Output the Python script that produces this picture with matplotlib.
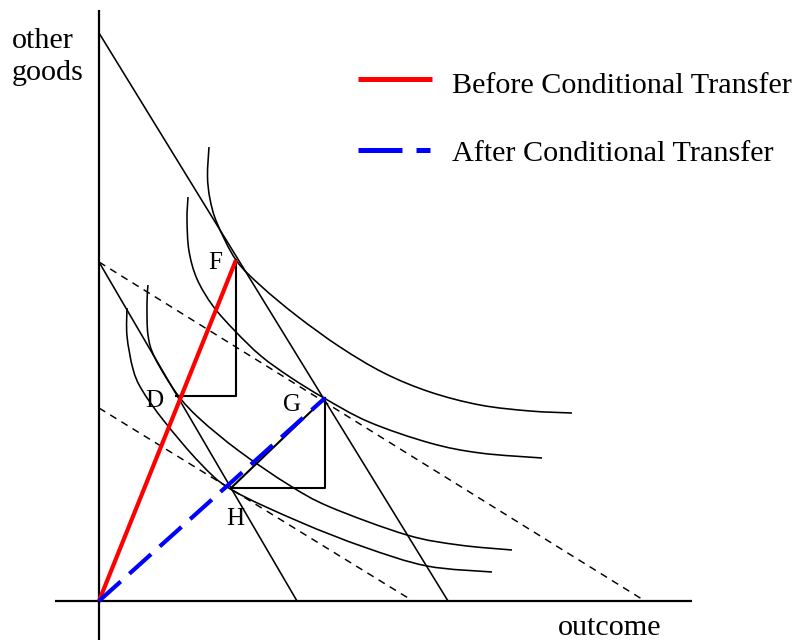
import matplotlib
matplotlib.use("Agg")
import matplotlib.pyplot as plt
from matplotlib.path import Path
from matplotlib.patches import PathPatch
import numpy as np

# ---- data (diagram units: origin at the axes corner) ----
origin = (0, 0)
point_F = (137, 341)
point_D = (77, 205)
point_G = (226, 203)
point_H = (132, 113)

# budget lines: (start, end)
line_A = [(0, 568), (349, 0)]
line_B = [(0, 339), (198, 0)]
dashed_1 = [(0, 339), (546, 0)]
dashed_2 = [(0, 193), (314, 0)]

# indifference curves: traced points
curve_1 = [(110, 454), (108.5, 425), (111, 402), (118, 378), (137, 341), (162, 315),
           (198, 285), (241, 254), (285, 228), (331, 209), (381, 196), (431, 190), (473, 188)]
curve_2 = [(89, 404), (88, 381), (90, 350), (98, 322), (114, 295), (136, 270),
           (162, 245), (191, 224), (225, 203), (270, 179), (331, 158), (381, 148), (443, 143)]
curve_3 = [(49, 316), (48, 298), (49, 266), (56, 243), (78, 207), (101, 182),
           (140, 150), (190, 116), (231, 94), (308, 66), (360, 56), (413, 51)]
curve_4 = [(28, 293), (28, 265), (34, 232), (43, 211), (65, 180), (101, 138),
           (133, 111), (201, 79), (265, 54), (328, 35), (393, 29)]

legend_labels = ["Before Conditional Transfer", "After Conditional Transfer"]
axis_labels = ["other", "goods", "outcome"]
point_labels = ["F", "D", "G", "H"]

# ---- figure ----
fig = plt.figure(figsize=(7.97, 6.44), dpi=100)
ax = fig.add_axes([0, 0, 1, 1])
ax.set_xlim(-99, 698)
ax.set_ylim(-43, 601)
ax.axis("off")

FONT = "Liberation Serif"
FS = 21.7

# axes
ax.plot([0, 0], [-39, 591], color="black", lw=1.6, solid_capstyle="butt")
ax.plot([-44, 593], [0, 0], color="black", lw=1.6, solid_capstyle="butt")

def seg(p, **kw):
    ax.plot([p[0][0], p[1][0]], [p[0][1], p[1][1]], **kw)

solid_kw = dict(color="black", lw=1.15)
dash_kw = dict(color="black", lw=1.05, dashes=(5, 4))
seg(line_A, **solid_kw)
seg(line_B, **solid_kw)
seg(dashed_1, **dash_kw)
seg(dashed_2, **dash_kw)

def smooth_curve(pts):
    P = np.array(pts, dtype=float)
    n = len(P)
    verts = [P[0]]
    codes = [Path.MOVETO]
    for i in range(n - 1):
        p0 = P[i - 1] if i > 0 else P[i]
        p1 = P[i]
        p2 = P[i + 1]
        p3 = P[i + 2] if i + 2 < n else P[i + 1]
        c1 = p1 + (p2 - p0) / 6.0
        c2 = p2 - (p3 - p1) / 6.0
        verts += [c1, c2, p2]
        codes += [Path.CURVE4] * 3
    return Path(verts, codes)

for c in (curve_1, curve_2, curve_3, curve_4):
    ax.add_patch(PathPatch(smooth_curve(c), fill=False, edgecolor="black", lw=1.15))

# triangles
ax.plot([point_F[0], point_F[0], point_D[0]], [point_F[1], point_D[1], point_D[1]],
        color="black", lw=1.5)
ax.plot([point_G[0], point_G[0], point_H[0]], [point_G[1], point_H[1], point_H[1]],
        color="black", lw=1.5)
ax.plot([point_H[0], point_G[0]], [point_H[1], point_G[1]], color="black", lw=1.5)

# before / after paths
ax.plot([origin[0], point_F[0]], [origin[1], point_F[1]], color="#ff0000", lw=3.0,
        solid_capstyle="butt")
ax.plot([origin[0], point_G[0]], [origin[1], point_G[1]], color="#0000ff", lw=3.0,
        dashes=(7, 2.8), dash_capstyle="butt")

# point labels
label_pos = [(116, 338), (55, 200), (193, 196), (136, 82)]
for name, (x, y) in zip(point_labels, label_pos):
    ax.text(x, y, name, fontsize=18, family=FONT, ha="center", va="center")

# axis labels
ax.text(-87, 553, axis_labels[0], fontsize=FS, family=FONT, ha="left", va="baseline")
ax.text(-87, 521, axis_labels[1], fontsize=FS, family=FONT, ha="left", va="baseline")
ax.text(459, -34, axis_labels[2], fontsize=FS, family=FONT, ha="left", va="baseline")

# legend
ax.plot([259, 333], [522, 522], color="#ff0000", lw=3.6, solid_capstyle="butt")
ax.plot([259, 331], [451, 451], color="#0000ff", lw=3.6, dashes=(8.8, 2.8),
        dash_capstyle="butt")
ax.text(353, 508, legend_labels[0], fontsize=FS, family=FONT, ha="left", va="baseline")
ax.text(353, 440, legend_labels[1], fontsize=FS, family=FONT, ha="left", va="baseline")

fig.savefig("out.png", dpi=100)
